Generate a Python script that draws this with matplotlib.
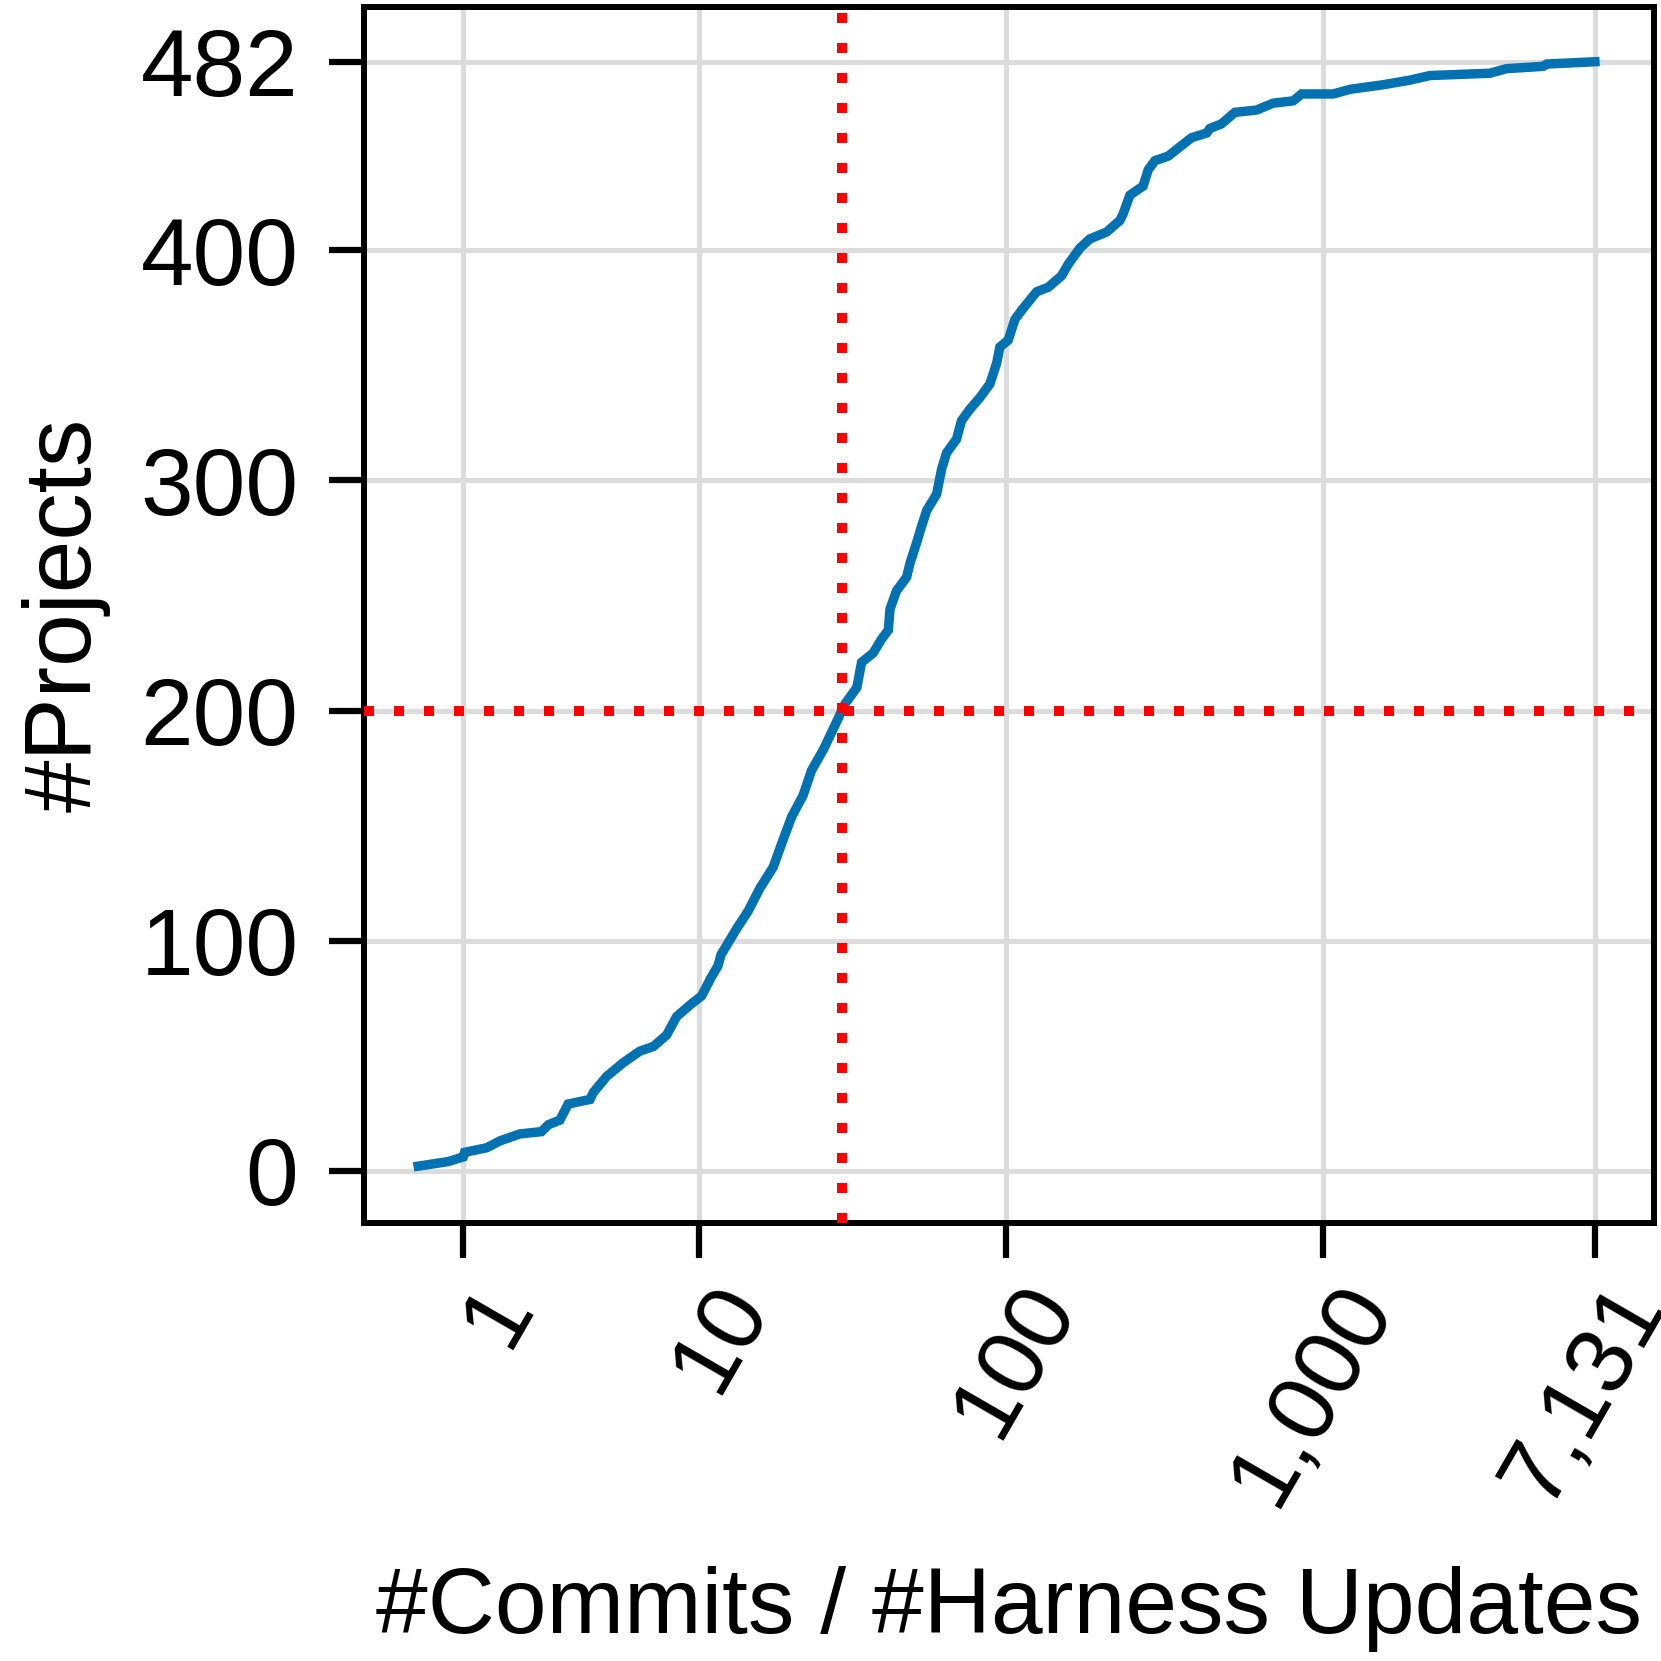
import numpy as np
import matplotlib
matplotlib.use("Agg")
import matplotlib.pyplot as plt
from matplotlib.ticker import FixedLocator, FuncFormatter
from matplotlib.transforms import ScaledTranslation

plt.rcParams['font.family'] = ['Liberation Sans', 'DejaVu Sans']

# ratio #commits / #harness updates (sorted) vs. cumulative #projects
ratio = [0.445, 0.795, 1.0, 1.02, 1.37, 1.61, 2.01, 2.52, 2.70, 3.02,
         3.27, 4.00, 4.12, 4.64, 5.36, 6.17, 6.90, 7.70, 8.35, 9.29,
         10.2, 11.0, 11.6, 11.9, 13.4, 14.7, 16.1, 17.8, 19.2, 20.5,
         22.3, 23.8, 26.0, 28.0, 30.6, 33.4, 34.6, 37.7, 40.1, 42.2,
         42.7, 44.8, 48.3, 49.5, 52.0, 53.9, 56.0, 60.2, 62.5, 64.8,
         69.7, 72.3, 76.9, 82.7, 89.0, 93.5, 95.7, 101.7, 106.8, 112.2,
         125.1, 136.2, 150.1, 157.5, 171.5, 184.4, 208.2, 229.2, 234.9, 246.5,
         271.4, 281.5, 295.6, 325.5, 354.2, 385.7, 429.9, 440.3, 479, 527.6,
         617, 696.3, 804.9, 855.2, 1075, 1213, 1543, 1872, 2163, 3337,
         3765, 4906, 5029, 7131]
projects = [2, 4, 6, 8, 10, 13, 16, 17, 20, 22,
            29, 31, 34, 41, 47, 52, 54, 59, 67, 72,
            76, 84, 89, 94, 105, 113, 123, 132, 144, 154,
            163, 174, 183, 192, 203, 210, 221, 225, 231, 235,
            244, 252, 258, 264, 273, 280, 287, 294, 305, 312,
            318, 326, 331, 336, 342, 351, 358, 361, 370, 374,
            382, 384, 389, 394, 401, 405, 408, 413, 416, 424,
            428, 435, 439, 441, 445, 449, 451, 453, 455, 460,
            461, 464, 465, 468, 468, 470, 472, 474, 476, 477,
            479, 480, 481, 482]

x_ticks = [1, 10, 100, 1000, 7131]
y_ticks = [0, 100, 200, 300, 400, 482]
ref_ratio = 30
ref_projects = 200

FS = 68

fig = plt.figure(figsize=(16.61, 16.61), dpi=100)
ax = fig.add_axes([0.2194, 0.2637, 0.7763, 0.7321])

ax.set_xscale('function', functions=(lambda v: np.log10(v + 1), lambda v: 10 ** v - 1))

ax.plot(ratio, projects, color='#0072b2', lw=6.8, zorder=3, solid_joinstyle='miter')
ax.axvline(ref_ratio, color='red', lw=7.2, linestyle=(0, (1, 2)), zorder=4)
ax.axhline(ref_projects, color='red', lw=7.2, linestyle=(0, (1, 2)), zorder=4)

ax.set_xlim(-0.0207, 10921)
ax.set_ylim(-22.7, 505.8)

ax.xaxis.set_major_locator(FixedLocator(x_ticks))
ax.xaxis.set_major_formatter(FuncFormatter(lambda v, p: f"{int(round(v)):,}"))
ax.xaxis.set_minor_locator(FixedLocator([]))
ax.set_yticks(y_ticks)

ax.grid(True, color='#dcdcdc', lw=3.6, zorder=0)
ax.set_axisbelow(True)

for s in ax.spines.values():
    s.set_linewidth(4.3)
    s.set_color('black')

ax.tick_params(axis='both', direction='out', length=25.5, width=4.5, labelsize=FS, color='black')
ax.tick_params(axis='y', pad=22)
ax.tick_params(axis='x', pad=8)

for lab in ax.get_xticklabels():
    lab.set_rotation(60)
    lab.set_ha('right')
    lab.set_va('top')
    lab.set_rotation_mode('anchor')
    lab.set_transform(lab.get_transform() + ScaledTranslation(0.1, 0, fig.dpi_scale_trans))

ax.set_xlabel('#Commits / #Harness Updates', fontsize=67)
ax.set_ylabel('#Projects', fontsize=FS)
ax.xaxis.set_label_coords(0.5, -0.282)
ax.yaxis.set_label_coords(-0.197, 0.5)

fig.savefig('out.png', dpi=100)
